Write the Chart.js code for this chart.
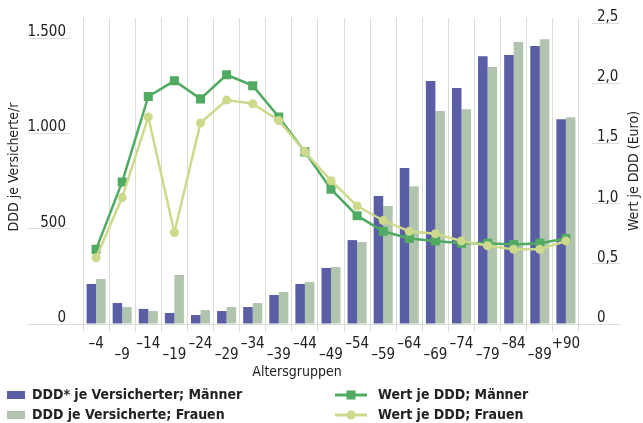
<!DOCTYPE html>
<html>
<head>
<meta charset="utf-8">
<script src="https://cdn.jsdelivr.net/npm/chart.js@4"></script>
<style>
  html, body { margin: 0; padding: 0; background: #fff; }
  #wrap { width: 643px; height: 423px; }
</style>
</head>
<body>
<div id="wrap"><canvas id="myChart" width="643" height="423"></canvas></div>
<script>
/* data */
var ageGroups = ['–4', '–9', '–14', '–19', '–24', '–29', '–34', '–39', '–44', '–49',
                 '–54', '–59', '–64', '–69', '–74', '–79', '–84', '–89', '+90'];
var dddMen   = [210, 110, 79, 58, 47, 68, 89, 152, 210, 294, 440, 671, 818, 1274, 1238, 1405, 1411, 1458, 1074];
var dddWomen = [236, 89, 68, 257, 73, 89, 110, 168, 220, 299, 430, 619, 723, 1117, 1127, 1348, 1479, 1494, 1085];
var valueMen   = [0.62, 1.18, 1.89, 2.02, 1.87, 2.07, 1.98, 1.72, 1.43, 1.12, 0.90, 0.77, 0.71, 0.69, 0.67, 0.67, 0.66, 0.67, 0.71];
var valueWomen = [0.55, 1.05, 1.72, 0.76, 1.67, 1.86, 1.83, 1.69, 1.43, 1.19, 0.98, 0.86, 0.77, 0.75, 0.69, 0.65, 0.62, 0.62, 0.69];
var leftTicks = [0, 500, 1000, 1500];
var rightTicks = [0, 0.5, 1, 1.5, 2, 2.5];

var titleLeft = 'DDD je Versicherte/r';
var titleRight = 'Wert je DDD (Euro)';
var titleX = 'Altersgruppen';

/* colours */
var colMen = '#5a5ea4';
var colWomen = '#b1c5ae';
var colLineMen = '#50aa62';
var colLineWomen = '#ced98c';
var gridCol = '#d9dfd4';
var textCol = '#222';
var FONT = "'Liberation Sans Narrow', 'DejaVu Sans Condensed', sans-serif";

// empty label at both ends so the plot gets a half gap on each side
function pad(arr) { return [null].concat(arr, [null]); }
var labelses = [''].concat(ageGroups, ['']);

function fmtLeft(v) {
  return String(v).replace(/\B(?=(\d{3})+$)/g, '.');
}
function fmtRight(v) {
  return v === 0 ? '0' : v.toFixed(1).replace('.', ',');
}

var extras = {
  id: 'extras',
  afterDraw: function(chart) {
    var c = chart.ctx;
    var area = chart.chartArea;
    var midY = (area.top + area.bottom) / 2;
    c.save();
    c.fillStyle = textCol;
    c.font = '14px ' + FONT;
    c.textAlign = 'center';
    c.textBaseline = 'middle';
    // axis titles
    c.save();
    c.translate(14, midY - 4);
    c.rotate(-Math.PI / 2);
    c.fillText(titleLeft, 0, 0);
    c.restore();
    c.save();
    c.translate(634, midY);
    c.rotate(-Math.PI / 2);
    c.fillText(titleRight, 0, 0);
    c.restore();
    c.fillText(titleX, 297, 372);

    // legend
    var ds = chart.data.datasets;
    c.font = 'bold 14px ' + FONT;
    c.textAlign = 'left';
    var rows = [395, 415];
    // bars
    c.fillStyle = colMen;
    c.fillRect(7, rows[0] - 4, 18, 8);
    c.fillStyle = colWomen;
    c.fillRect(7, rows[1] - 4, 18, 8);
    c.fillStyle = textCol;
    c.fillText(ds[2].label, 32, rows[0]);
    c.fillText(ds[3].label, 32, rows[1]);
    // lines
    c.lineWidth = 3;
    c.strokeStyle = colLineMen;
    c.beginPath(); c.moveTo(335, rows[0]); c.lineTo(367, rows[0]); c.stroke();
    c.fillStyle = colLineMen;
    c.fillRect(346.5, rows[0] - 4.5, 9, 9);
    c.strokeStyle = colLineWomen;
    c.beginPath(); c.moveTo(335, rows[1]); c.lineTo(367, rows[1]); c.stroke();
    c.fillStyle = colLineWomen;
    c.beginPath(); c.arc(351, rows[1], 4.5, 0, Math.PI * 2); c.fill();
    c.fillStyle = textCol;
    c.fillText(ds[1].label, 378, rows[0]);
    c.fillText(ds[0].label, 378, rows[1]);
    c.restore();
  }
};

var ctx = document.getElementById('myChart').getContext('2d');
var myChart = new Chart(ctx, {
  type: 'bar',
  data: {
    labels: labelses,
    datasets: [
      {
        type: 'line',
        label: 'Wert je DDD; Frauen',
        data: pad(valueWomen),
        yAxisID: 'y1',
        order: 0,
        borderColor: colLineWomen,
        backgroundColor: colLineWomen,
        borderWidth: 2.5,
        pointStyle: 'circle',
        pointRadius: 4.5,
        pointBorderWidth: 0,
        tension: 0
      },
      {
        type: 'line',
        label: 'Wert je DDD; Männer',
        data: pad(valueMen),
        yAxisID: 'y1',
        order: 1,
        borderColor: colLineMen,
        backgroundColor: colLineMen,
        borderWidth: 2.5,
        pointStyle: 'rect',
        pointRadius: 6.4,
        pointBorderWidth: 0,
        tension: 0
      },
      {
        label: 'DDD* je Versicherter; Männer',
        data: pad(dddMen),
        yAxisID: 'y',
        order: 2,
        backgroundColor: colMen,
        barPercentage: 1,
        categoryPercentage: 0.73
      },
      {
        label: 'DDD je Versicherte; Frauen',
        data: pad(dddWomen),
        yAxisID: 'y',
        order: 3,
        backgroundColor: colWomen,
        barPercentage: 1,
        categoryPercentage: 0.73
      }
    ]
  },
  plugins: [extras],
  options: {
    responsive: false,
    animation: false,
    layout: { padding: { top: 18, bottom: 44, left: 0, right: 0 } },
    plugins: {
      legend: { display: false },
      tooltip: { enabled: false }
    },
    scales: {
      x: {
        offset: false,
        grid: { color: gridCol, lineWidth: 1, tickLength: 8, tickColor: gridCol },
        border: { display: true, color: gridCol, width: 1 },
        ticks: {
          autoSkip: false,
          maxRotation: 0,
          minRotation: 0,
          padding: 7,
          color: textCol,
          font: { family: FONT, size: 15, lineHeight: 0.72 },
          callback: function(val, i) {
            var l = this.getLabelForValue(val);
            if (!l) return '';
            return (i % 2 === 1) ? l : ['', l];
          }
        },
        afterFit: function(scale) { scale.height = 55; }
      },
      y: {
        position: 'left',
        min: 0,
        max: 1605,
        grid: { drawOnChartArea: false, tickLength: 42, color: gridCol, tickColor: gridCol },
        border: { display: false },
        afterBuildTicks: function(scale) {
          scale.ticks = leftTicks.map(function(v) { return { value: v }; });
        },
        ticks: {
          padding: -38,
          labelOffset: -6,
          color: textCol,
          font: { family: FONT, size: 15 },
          callback: function(v) { return fmtLeft(v); }
        },
        afterFit: function(scale) { scale.width = 70; }
      },
      y1: {
        position: 'right',
        min: 0,
        max: 2.542,
        grid: { drawOnChartArea: false, tickLength: 28, color: gridCol, tickColor: gridCol },
        border: { display: false },
        afterBuildTicks: function(scale) {
          scale.ticks = rightTicks.map(function(v) { return { value: v }; });
        },
        ticks: {
          padding: -23,
          labelOffset: -6,
          color: textCol,
          font: { family: FONT, size: 15 },
          callback: function(v) { return fmtRight(v); }
        },
        afterFit: function(scale) { scale.width = 51; }
      }
    }
  }
});
</script>
</body>
</html>
